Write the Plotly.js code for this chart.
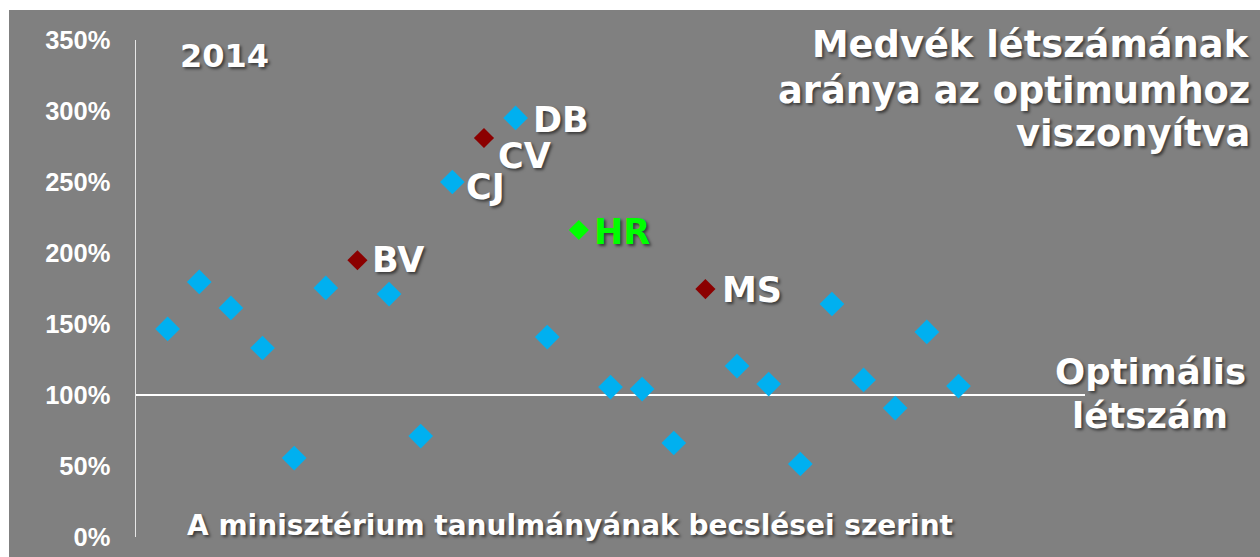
<!DOCTYPE html>
<html><head><meta charset="utf-8">
<script src="https://cdn.plot.ly/plotly-3.0.1.min.js"></script>
<style>
html,body{margin:0;padding:0;background:#ffffff;}
#chart{position:absolute;left:9px;top:10px;width:1251px;height:547px;}
</style>
</head><body><div id="chart"></div>
<script>
// ---- data ----
const positions = [1,2,3,4,5,6,7,8,9,10,11,12,13,14,15,16,17,18,19,20,21,22,23,24,25,26];
const values = [146.5,179.6,161.3,133.1,55.6,175.4,194.9,171.1,71.1,250.0,281.0,295.1,140.8,216.2,105.6,104.2,66.2,174.6,120.4,107.7,51.4,164.1,110.6,90.8,144.4,106.3];
const labels = ['','','','','','','BV','','','CJ','CV','DB','','HR','','','','MS','','','','','','','',''];
const groups = ['other','other','other','other','other','other','marked','other','other','other','marked','other','other','home','other','other','other','marked','other','other','other','other','other','other','other','other'];
const yTickVals = [0,50,100,150,200,250,300,350];
const yTickText = ['0%','50%','100%','150%','200%','250%','300%','350%'];
const optimumValue = 100;
const yearText = '2014';
const titleLines = ['Medvék létszámának','aránya az optimumhoz','viszonyítva'];
const optimumLines = ['Optimális','létszám'];
const sourceText = 'A minisztérium tanulmányának becslései szerint';

// ---- style ----
const groupStyle = {
  other:  {color:'#00B0F0', size:19},
  marked: {color:'#8B0000', size:15.5},
  home:   {color:'#00FF00', size:15.5}
};
const labelStyle = {
  BV:{dx:13,dy:0,color:'#ffffff'},
  CJ:{dx:12,dy:-5,color:'#ffffff'},
  CV:{dx:12,dy:-18,color:'#ffffff'},
  DB:{dx:15,dy:-2,color:'#ffffff'},
  HR:{dx:13,dy:-2,color:'#00FF00'},
  MS:{dx:15,dy:-1,color:'#ffffff'}
};
const SHADOW = '2px 2px 3px rgba(0,0,0,0.55)';
const FONT = 'DejaVu Sans, Verdana, sans-serif';

// page-pixel -> paper helpers (plot area: x 136..1085, y 40..537 on page)
const PX0=136, PX1=1085, PY0=40, PY1=537;
const px = x => (x-PX0)/(PX1-PX0);
const py = y => (PY1-y)/(PY1-PY0);

const traces = ['other','marked','home'].map(g => {
  const xs=[], ys=[];
  positions.forEach((p,i)=>{ if(groups[i]===g){xs.push(p); ys.push(values[i]);} });
  return {type:'scatter', mode:'markers', x:xs, y:ys, hoverinfo:'skip',
    marker:{symbol:'diamond', color:groupStyle[g].color, size:groupStyle[g].size, line:{width:0}}};
});

const annotations = [];
positions.forEach((p,i)=>{
  const lab = labels[i];
  if(!lab) return;
  const st = labelStyle[lab];
  annotations.push({xref:'x', yref:'y', x:p, y:values[i], text:'<b>'+lab+'</b>',
    showarrow:false, xanchor:'left', yanchor:'middle', xshift:st.dx, yshift:st.dy,
    font:{family:FONT, size:35, color:st.color, shadow:SHADOW}});
});
const titleY = [45,90,133];
titleLines.forEach((t,k)=>annotations.push({xref:'paper', yref:'paper', x:px(1252), y:py(titleY[k]),
  xanchor:'right', yanchor:'middle', showarrow:false, text:'<b>'+t+'</b>',
  font:{family:FONT, size:36.8, color:'#ffffff', shadow:SHADOW}}));
const optY = [372,415];
optimumLines.forEach((t,k)=>annotations.push({xref:'paper', yref:'paper', x:px(1150), y:py(optY[k]),
  xanchor:'center', yanchor:'middle', showarrow:false, text:'<b>'+t+'</b>',
  font:{family:FONT, size:35.5, color:'#ffffff', shadow:SHADOW}}));
annotations.push({xref:'paper', yref:'paper', x:px(178), y:py(56), xanchor:'left', yanchor:'middle',
  showarrow:false, text:'<b>'+yearText+'</b>', font:{family:FONT, size:32, color:'#ffffff', shadow:SHADOW}});
annotations.push({xref:'paper', yref:'paper', x:px(185), y:py(525), xanchor:'left', yanchor:'middle',
  showarrow:false, text:'<b>'+sourceText+'</b>', font:{family:FONT, size:28, color:'#ffffff', shadow:SHADOW}});

const layout = {
  width:1251, height:547,
  margin:{l:127, r:175, t:30, b:20, pad:0},
  paper_bgcolor:'#808080', plot_bgcolor:'#808080',
  showlegend:false,
  xaxis:{range:[0,30], showgrid:false, zeroline:false, showline:false, showticklabels:false, ticks:''},
  yaxis:{range:[0,350], tickmode:'array', tickvals:yTickVals, ticktext:yTickText, showgrid:false, zeroline:false,
    showline:true, linecolor:'#e6e6e6', linewidth:1.5, ticks:'', ticklabelstandoff:19,
    tickfont:{family:'Liberation Sans, Arial, sans-serif', size:25.5, color:'#ffffff', weight:'bold'}},
  shapes:[{type:'line', xref:'x', yref:'y', x0:0, x1:30, y0:optimumValue, y1:optimumValue,
    line:{color:'#ffffff', width:2}, layer:'below'}],
  annotations:annotations
};
Plotly.newPlot('chart', traces, layout, {displayModeBar:false, staticPlot:true});
</script>
</body></html>
